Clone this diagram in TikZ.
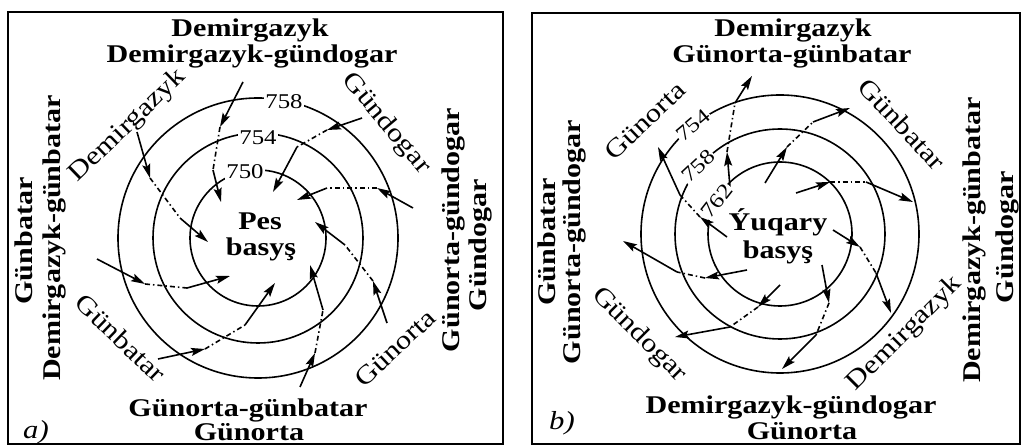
\documentclass[tikz,border=0pt]{standalone}
\usepackage{fontspec}
\setmainfont{Liberation Serif}[FakeStretch=1.18]
\usetikzlibrary{arrows.meta}
\begin{document}
\begin{tikzpicture}[x=1pt,y=-1pt,
  iso/.style={line width=1.6pt},
  arr/.style={line width=1.6pt,-{Stealth[length=14pt,width=8pt,inset=2.5pt]}},
  dd/.style={line width=1.6pt,dash pattern=on 5pt off 3pt on 1.5pt off 3pt},
  dirl/.style={font=\fontsize{26}{26}\selectfont,inner sep=0pt},
  bl/.style={font=\fontsize{25.5}{26}\selectfont\bfseries,inner sep=0pt,anchor=base},
  num/.style={font=\fontsize{21}{21}\selectfont,fill=white,inner sep=1pt},
  lett/.style={font=\fontsize{26}{26}\selectfont\itshape,inner sep=0pt,anchor=base}]
\useasboundingbox (0,0) rectangle (1023,446);
% frames
\draw[line width=2pt] (8,12) rectangle (503,444);
\draw[line width=2pt] (532,13) rectangle (1020,444);

% ===== left panel =====
\draw[iso] (258,238) circle[radius=68pt];
\draw[iso] (258,238) circle[radius=105pt];
\draw[iso] (258,238) circle[radius=140pt];
% tracks
\draw[arr] (243,82) -- (220,127); \draw[dd] (220,127) -- (213,170); \draw[arr] (213,170) -- (221,202);
\draw[arr] (137,132) -- (150,178); \draw[dd] (150,178) -- (180,218); \draw[arr] (180,218) -- (208,242);
\draw[arr] (362,118) -- (327,130); \draw[dd] (327,130) -- (297,147); \draw[arr] (297,147) -- (273,192);
\draw[arr] (413,208) -- (377,188); \draw[dd] (377,188) -- (327,188); \draw[arr] (327,188) -- (297,200);
\draw[arr] (387,323) -- (373,281); \draw[dd] (373,281) -- (345,245); \draw[arr] (345,245) -- (315,222);
\draw[arr] (300,387) -- (315,353); \draw[dd] (315,353) -- (323,310); \draw[arr] (323,310) -- (310,265);
\draw[arr] (158,359) -- (205,349); \draw[dd] (205,349) -- (245,325); \draw[arr] (245,325) -- (275,283);
\draw[arr] (97,259) -- (145,284); \draw[dd] (145,284) -- (187,288); \draw[arr] (187,288) -- (230,276);
% isobar numbers
\node[num] (l758) at (284,102) {758};
\node[num] (l754) at (258,138) {754};
\node[num] (l750) at (245,172) {750};
% centre
\node[bl] (pes) at (260,230) {Pes};
\node[bl] (pesb) at (261,256) {basyş};
% direction labels
\node[dirl,rotate=44] (ln) at (128,126) {Demirgazyk};
\node[dirl,rotate=-50] (le) at (386,124) {Gündogar};
\node[dirl,rotate=43] (ls) at (395,348) {Günorta};
\node[dirl,rotate=-44] (lw) at (121,338) {Günbatar};
% side labels
\node[bl] (lt1) at (250,37) {Demirgazyk};
\node[bl] (lt2) at (252,63) {Demirgazyk-gündogar};
\node[bl] (lb1) at (248,416) {Günorta-günbatar};
\node[bl] (lb2) at (249,440) {Günorta};
\node[bl,rotate=90] (ll1) at (32,241) {Günbatar};
\node[bl,rotate=90] (ll2) at (60,238) {Demirgazyk-günbatar};
\node[bl,rotate=90] (lr1) at (459,230) {Günorta-gündogar};
\node[bl,rotate=90] (lr2) at (486,245) {Gündogar};
\node[lett] (la) at (36,438) {a)};

% ===== right panel =====
\draw[iso] (780,234) circle[radius=72pt];
\draw[iso] (780,234) circle[radius=105pt];
\draw[iso] (780,234) circle[radius=139pt];
\draw[arr] (730,187) -- (727,152); \draw[dd] (727,152) -- (735,103); \draw[arr] (735,103) -- (752,76);
\draw[arr] (765,183) -- (787,147); \draw[dd] (787,147) -- (813,122); \draw[arr] (813,122) -- (850,108);
\draw[arr] (796,193) -- (830,182); \draw[dd] (830,182) -- (866,182); \draw[arr] (866,182) -- (913,202);
\draw[arr] (833,230) -- (860,247); \draw[dd] (860,247) -- (876,273); \draw[arr] (876,273) -- (891,313);
\draw[arr] (822,265) -- (829,303); \draw[dd] (829,303) -- (816,335); \draw[arr] (816,335) -- (782,369);
\draw[arr] (780,285) -- (758,307); \draw[dd] (758,307) -- (730,327); \draw[arr] (730,327) -- (675,337);
\draw[arr] (747,270) -- (705,278); \draw[dd] (705,278) -- (677,272); \draw[arr] (677,272) -- (623,241);
\draw[arr] (727,237) -- (700,217); \draw[dd] (700,217) -- (680,195); \draw[arr] (680,195) -- (658,147);
\node[num,rotate=40] (r754) at (693,125) {754};
\node[num,rotate=43] (r758) at (698,166) {758};
\node[num,rotate=52] (r762) at (717,201) {762};
\node[bl] (yuq) at (778,231) {Ýuqary};
\node[bl] (yuqb) at (778,259) {basyş};
\node[dirl,rotate=43.5] (rn) at (645,121) {Günorta};
\node[dirl,rotate=-47] (re) at (902,124) {Günbatar};
\node[dirl,rotate=45] (rs) at (905,334) {Demirgazyk};
\node[dirl,rotate=-45] (rw) at (639,335) {Gündogar};
\node[bl] (rt1) at (793,37) {Demirgazyk};
\node[bl] (rt2) at (792,63) {Günorta-günbatar};
\node[bl] (rb1) at (791,413) {Demirgazyk-gündogar};
\node[bl] (rb2) at (802,439) {Günorta};
\node[bl,rotate=90] (rl1) at (555,242) {Günbatar};
\node[bl,rotate=90] (rl2) at (580,242) {Günorta-gündogar};
\node[bl,rotate=90] (rr1) at (980,240) {Demirgazyk-günbatar};
\node[bl,rotate=90] (rr2) at (1013,237) {Gündogar};
\node[lett] (lb) at (562,429) {b)};
\end{tikzpicture}
\end{document}
